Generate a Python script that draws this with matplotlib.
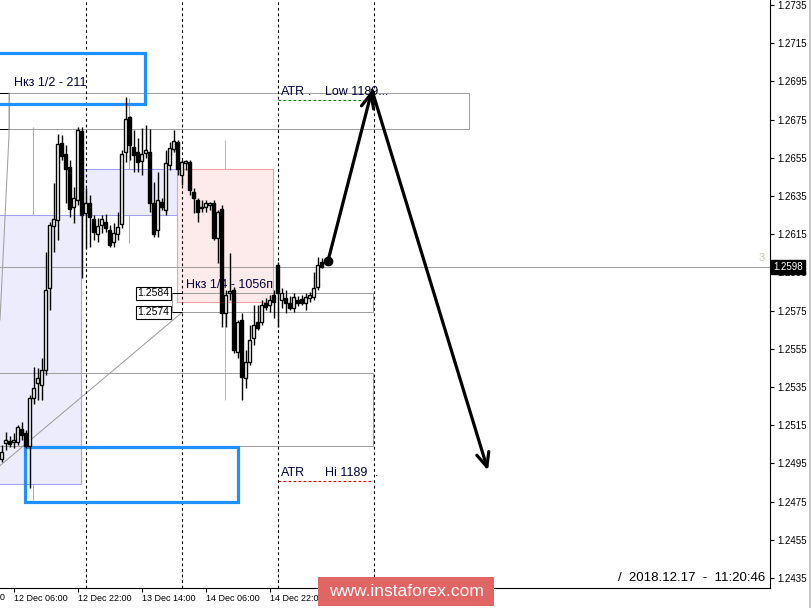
import matplotlib
matplotlib.use('Agg')
import matplotlib.pyplot as plt
import matplotlib.transforms as mtransforms
from matplotlib.patches import Rectangle
import numpy as np

plt.rcParams['font.family'] = ['Liberation Sans', 'DejaVu Sans']

''' GBPUSD H1 candles; bar 0 = 12 Dec 00:00, weekend skipped (bar 72 = 17 Dec 00:00) '''
bar_idx = np.arange(3, 84)
opens = [1.24973, 1.25057, 1.25067, 1.25062, 1.25062, 1.25130, 1.25109, 1.25041, 1.25292, 1.25371,
         1.25360, 1.25439, 1.25868, 1.26193, 1.26224, 1.26627, 1.26570, 1.26502, 1.26292, 1.26329,
         1.26690, 1.26261, 1.26313, 1.26229, 1.26151, 1.26198, 1.26214, 1.26172, 1.26109, 1.26151,
         1.26203, 1.26580, 1.26763, 1.26606, 1.26580, 1.26533, 1.26575, 1.26580, 1.26313, 1.26172,
         1.26318, 1.26276, 1.26512, 1.26596, 1.26633, 1.26460, 1.26523, 1.26528, 1.26371, 1.26329,
         1.26287, 1.26292, 1.26303, 1.26313, 1.26130, 1.26282, 1.25737, 1.25842, 1.25858, 1.25533,
         1.25701, 1.25397, 1.25481, 1.25606, 1.25690, 1.25690, 1.25790, 1.25779, 1.25831, 1.25989,
         1.25805, 1.25816, 1.25790, 1.25763, 1.25805, 1.25811, 1.25790, 1.25816, 1.25821, 1.25873,
         1.26004]
highs = [1.25046, 1.25114, 1.25093, 1.25109, 1.25151, 1.25167, 1.25125, 1.25308, 1.25455, 1.25450,
         1.25502, 1.26057, 1.26214, 1.26418, 1.26674, 1.26669, 1.26617, 1.26538, 1.26397, 1.26711,
         1.26711, 1.26392, 1.26355, 1.26250, 1.26235, 1.26250, 1.26256, 1.26198, 1.26208, 1.26266,
         1.26591, 1.26868, 1.26769, 1.26695, 1.26653, 1.26706, 1.26722, 1.26701, 1.26423, 1.26475,
         1.26339, 1.26591, 1.26633, 1.26695, 1.26643, 1.26538, 1.26538, 1.26538, 1.26392, 1.26339,
         1.26329, 1.26329, 1.26318, 1.26329, 1.26276, 1.26303, 1.25858, 1.26051, 1.25873, 1.25701,
         1.25737, 1.25544, 1.25674, 1.25779, 1.25779, 1.25805, 1.25816, 1.25831, 1.25858, 1.26004,
         1.25868, 1.25858, 1.25826, 1.25842, 1.25826, 1.25831, 1.25842, 1.25847, 1.25952, 1.26030,
         1.26025]
lows = [1.24957, 1.25020, 1.25036, 1.25031, 1.25046, 1.25072, 1.25031, 1.24821, 1.25261, 1.25282,
        1.25282, 1.25413, 1.25753, 1.26057, 1.26119, 1.26538, 1.26313, 1.26240, 1.26208, 1.26303,
        1.25920, 1.26078, 1.26083, 1.26119, 1.26109, 1.26156, 1.26161, 1.26083, 1.26083, 1.26119,
        1.26182, 1.26528, 1.26538, 1.26475, 1.26475, 1.26460, 1.26549, 1.26266, 1.26135, 1.26135,
        1.26276, 1.26250, 1.26486, 1.26580, 1.26460, 1.26407, 1.26486, 1.26355, 1.26261, 1.26214,
        1.26266, 1.26266, 1.26276, 1.26119, 1.25999, 1.25664, 1.25664, 1.25805, 1.25528, 1.25502,
        1.25282, 1.25345, 1.25466, 1.25570, 1.25648, 1.25674, 1.25753, 1.25742, 1.25711, 1.25664,
        1.25763, 1.25737, 1.25753, 1.25742, 1.25774, 1.25779, 1.25753, 1.25795, 1.25805, 1.25858,
        1.25973]
closes = [1.25010, 1.25072, 1.25051, 1.25072, 1.25140, 1.25099, 1.25041, 1.25292, 1.25345, 1.25397,
          1.25439, 1.25858, 1.26198, 1.26229, 1.26622, 1.26559, 1.26491, 1.26282, 1.26339, 1.26695,
          1.26250, 1.26313, 1.26240, 1.26161, 1.26193, 1.26229, 1.26182, 1.26093, 1.26156, 1.26187,
          1.26570, 1.26753, 1.26617, 1.26564, 1.26528, 1.26570, 1.26591, 1.26313, 1.26151, 1.26329,
          1.26292, 1.26523, 1.26601, 1.26638, 1.26491, 1.26528, 1.26533, 1.26381, 1.26339, 1.26266,
          1.26292, 1.26313, 1.26313, 1.26130, 1.26266, 1.25737, 1.25831, 1.25852, 1.25544, 1.25690,
          1.25402, 1.25481, 1.25596, 1.25674, 1.25659, 1.25779, 1.25769, 1.25805, 1.25795, 1.25842,
          1.25842, 1.25790, 1.25763, 1.25821, 1.25790, 1.25790, 1.25821, 1.25831, 1.25868, 1.25989,
          1.25980]

''' daily candles drawn as background boxes: 12, 13, 14 Dec '''
day_start = [-1.25, 22.75, 46.75]
day_open = [1.24840, 1.26250, 1.26491]
day_close = [1.26250, 1.26491, 1.25795]
day_high = [1.26711, 1.26863, 1.26643]
day_low = [1.24758, 1.26104, 1.25282]

day_lines = [24, 48, 72, 96]
xtick_pos = [6, 22, 38, 54, 70]
xtick_lab = ['12 Dec 06:00', '12 Dec 22:00', '13 Dec 14:00', '14 Dec 06:00', '14 Dec 22:00']
yticks = np.round(1.2435 + 0.002 * np.arange(16), 4)

''' levels and zones '''
last_price = 1.2598
level_a, level_b = 1.2584, 1.2574
atr_low, atr_hi = 1.26852, 1.24858
zone_top = (-10, 38.75, 1.26832, 1.27099)
zone_bot = (8.75, 62, 1.24748, 1.25036)
box_top = (4.75, 119.75, 1.26700, 1.26889)
box_low = (-5, 95.75, 1.25041, 1.25423)
trend_x = [-2.5, 48]
trend_y = [1.2485, 1.2574]
path_x = [84.5, 95.5, 124.5]
path_y = [1.26010, 1.26904, 1.24913]

fig = plt.figure(figsize=(8.12, 6.08), dpi=100)
ax = fig.add_axes([0, 20 / 608, 770 / 812, 588 / 608])
ax.set_xlim(2.5, 195)
ax.set_ylim(1.242975, 1.27376)

gray = '#a0a0a0'
navy = '#000040'

''' daily boxes '''
for s, o, c, h, l in zip(day_start, day_open, day_close, day_high, day_low):
    if c >= o:
        fc, ec = '#ececfc', '#a0a0f0'
    else:
        fc, ec = '#fdeaea', '#f0a0a0'
    ax.add_patch(Rectangle((s, min(o, c)), 24, abs(c - o), facecolor=fc, edgecolor=ec, lw=0.75, zorder=1))
    ax.vlines(s + 12, max(o, c), h, color=ec, lw=0.75, zorder=1)
    ax.vlines(s + 12, l, min(o, c), color=ec, lw=0.75, zorder=1)

''' gray boxes and lines '''
for x0, x1, y0, y1 in [box_top, box_low]:
    ax.add_patch(Rectangle((x0, y0), x1 - x0, y1 - y0, fill=False, edgecolor=gray, lw=0.75, zorder=2))
ax.hlines([box_top[2], box_top[3]], -5, box_top[0], color='black', lw=0.75, zorder=2)
ax.plot([4.75, 4.75, 2.5], [box_top[3], 1.26669, 1.25701], color=gray, lw=0.75, zorder=2)
ax.add_patch(Rectangle((45.5, level_b), 95.75 - 45.5, level_a - level_b, fill=False,
                       edgecolor=gray, lw=0.75, zorder=2))
ax.hlines([level_a, level_b], 45.5, 48, color='black', lw=0.75, zorder=3)
ax.plot(trend_x, trend_y, color=gray, lw=0.75, zorder=2)
ax.axhline(last_price, color=gray, lw=0.75, zorder=2)

''' blue zones '''
for x0, x1, y0, y1 in [zone_top, zone_bot]:
    ax.add_patch(Rectangle((x0, y0), x1 - x0, y1 - y0, fill=False, edgecolor='#1e90ff', lw=2.3, zorder=3))

''' day separators '''
for d in day_lines:
    ax.axvline(d, color='black', lw=0.8, dashes=(2.5, 2.5), zorder=2)

''' ATR levels '''
ax.hlines(atr_low, 72, 95.75, color='#008000', lw=0.8, linestyles=(0, (2.5, 2)), zorder=3)
ax.hlines(atr_hi, 72, 95.75, color='#e00000', lw=0.8, linestyles=(0, (2.5, 2)), zorder=3)
ax.text(72.75, atr_low + 0.00012, 'ATR', fontsize=9, color=navy, va='bottom', zorder=3)
ax.text(79.5, atr_low + 0.00012, '.', fontsize=9, color=navy, va='bottom', zorder=3)
ax.text(83.75, atr_low + 0.00012, 'Low 1189...', fontsize=9, color=navy, va='bottom', zorder=3)
ax.text(72.75, atr_hi + 0.00012, 'ATR', fontsize=9, color=navy, va='bottom', zorder=3)
ax.text(83.75, atr_hi + 0.00012, 'Hi 1189', fontsize=9, color=navy, va='bottom', zorder=3)
ax.text(96.3, atr_hi + 0.00012, '.', fontsize=9, color=navy, va='bottom', zorder=3)

''' labels '''
ax.text(6, 1.26941, 'Нкз 1/2 - 211', fontsize=9, color=navy, va='center', zorder=3)
ax.text(49, 1.25884, 'Нкз 1/4 - 1056п', fontsize=9, color=navy, va='center', zorder=3)
for lv in [level_a, level_b]:
    ax.text(40.9, lv, f'{lv:.4f}', fontsize=7.5, color='black', ha='center', va='center', zorder=6,
            bbox=dict(boxstyle='square,pad=0.12', fc='white', ec='black', lw=0.8))
ax.text(193, 1.26025, '3', fontsize=8, color='#c8c8b0', ha='center', va='center', zorder=3)

''' candles '''
o = np.array(opens)
c = np.array(closes)
ax.vlines(bar_idx, lows, highs, color='black', lw=1.0, zorder=4)
face = ['white' if cc >= oo else 'black' for oo, cc in zip(o, c)]
ax.bar(bar_idx, np.abs(c - o), bottom=np.minimum(o, c), width=0.75, color=face,
       edgecolor='black', linewidth=1.0, zorder=5)

''' forecast path '''
ax.annotate('', xy=(path_x[1], path_y[1]), xytext=(path_x[0], path_y[0]), zorder=7,
            arrowprops=dict(arrowstyle='->,head_length=1.0,head_width=0.45', lw=2.3, color='black',
                            shrinkA=0, shrinkB=0, mutation_scale=10))
ax.annotate('', xy=(path_x[2], path_y[2]), xytext=(path_x[1], path_y[1]), zorder=7,
            arrowprops=dict(arrowstyle='->,head_length=1.0,head_width=0.45', lw=2.3, color='black',
                            shrinkA=0, shrinkB=0, mutation_scale=10))
ax.plot(path_x[0], path_y[0], 'o', color='black', markersize=6, zorder=7)

''' axes '''
for side in ['top', 'left']:
    ax.spines[side].set_visible(False)
for side in ['right', 'bottom']:
    ax.spines[side].set_linewidth(0.8)
ax.yaxis.tick_right()
ax.set_yticks(yticks)
ax.set_yticklabels([f'{v:.4f}' for v in yticks])
ax.set_xticks(xtick_pos)
ax.set_xticklabels(xtick_lab)
for lab in ax.get_xticklabels():
    lab.set_ha('left')
ax.tick_params(axis='y', direction='out', length=3, width=0.8, pad=2, labelsize=7)
ax.tick_params(axis='x', direction='out', length=3, width=0.8, pad=1.5, labelsize=6.5)
ax.text(-9.6, -0.0155, '11 Dec 14:00', fontsize=6.5, transform=ax.get_xaxis_transform(),
        ha='left', va='center', clip_on=False)

trans = mtransforms.blended_transform_factory(ax.transAxes, ax.transData)
ax.text(1.004, last_price, f'{last_price:.4f}', transform=trans, fontsize=7, color='white',
        ha='left', va='center', zorder=10, clip_on=False,
        bbox=dict(boxstyle='square,pad=0.2', fc='black', ec='black'))
ax.text(0.9935, 0.017, '/  2018.12.17  -  11:20:46', transform=ax.transAxes, fontsize=9.5,
        color='black', ha='right', va='center', zorder=10)

''' watermark '''
fig.patches.append(Rectangle((318 / 812, 2 / 608), 176 / 812, 29 / 608, transform=fig.transFigure,
                             facecolor='#e06666', edgecolor='none', zorder=20))
fig.text(406 / 812, 16 / 608, 'www.instaforex.com', fontsize=12.5, color='white',
         ha='center', va='center', zorder=21)
fig.patches.append(Rectangle((809 / 812, 0), 3 / 812, 1, transform=fig.transFigure,
                             facecolor='#c8c8c8', edgecolor='none', zorder=20))

fig.savefig('out.png', dpi=100)
